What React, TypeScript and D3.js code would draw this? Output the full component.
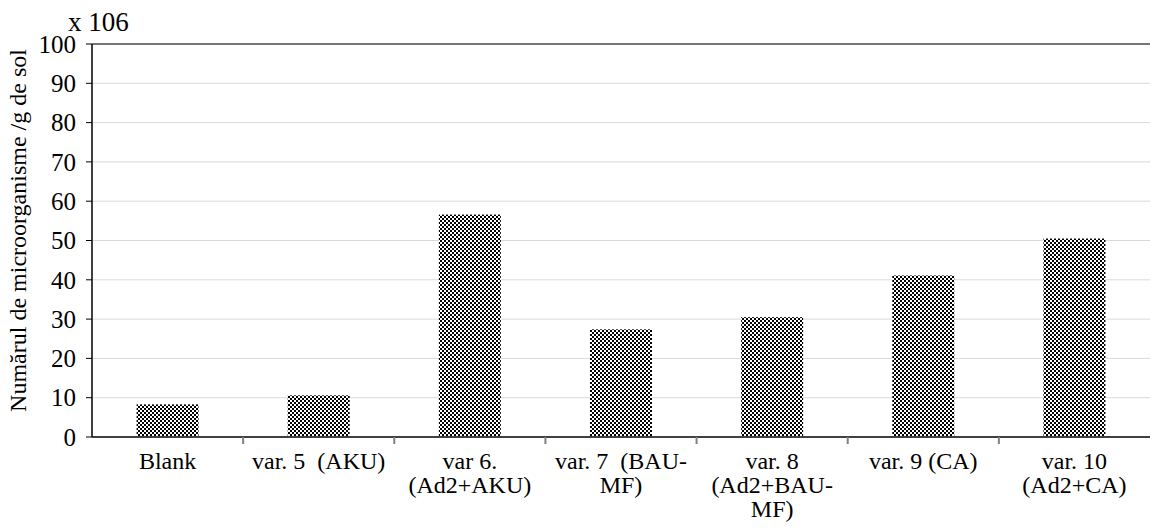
import React from "react";
import * as d3 from "d3";

const categories: string[][] = [
  ["Blank"],
  ["var. 5  (AKU)"],
  ["var 6.", "(Ad2+AKU)"],
  ["var. 7  (BAU-", "MF)"],
  ["var. 8", "(Ad2+BAU-", "MF)"],
  ["var. 9 (CA)"],
  ["var. 10", "(Ad2+CA)"],
];
const values: number[] = [8.3, 10.6, 56.6, 27.4, 30.5, 41.1, 50.5];
const yTicks: number[] = [0, 10, 20, 30, 40, 50, 60, 70, 80, 90, 100];
const yTitle = "Numărul de microorganisme /g de sol";
const unitLabel = "x 106";

const W = 1154;
const H = 531;
const left = 92;
const right = 1150;
const top = 44;
const bottom = 437;
const font = "'Liberation Serif', 'Times New Roman', Times, serif";
const fs = 24;
const fsTick = 25;

export default function App() {
  const ids = categories.map((_, i) => String(i));
  const x = d3.scaleBand<string>().domain(ids).range([left, right]).paddingInner(0.59).paddingOuter(0.295);
  const xb = d3.scaleBand<string>().domain(ids).range([left, right]).padding(0);
  const y = d3.scaleLinear().domain([0, 100]).range([bottom, top]);

  return (
    <svg
      width={W}
      height={H}
      style={{ position: "absolute", left: 0, top: 0, background: "#fff", fontFamily: font }}
    >
      <defs>
        <pattern id="checker" width={4} height={4} patternUnits="userSpaceOnUse">
          <rect width={4} height={4} fill="#fff" />
          <rect x={0} y={0} width={2} height={2} fill="#000" />
          <rect x={2} y={2} width={2} height={2} fill="#000" />
        </pattern>
      </defs>
      <rect x={0} y={0} width={W} height={H} fill="#fff" />
      {yTicks.slice(1).map((t) => (
        <line key={"g" + t} x1={left} x2={right} y1={y(t)} y2={y(t)} stroke="#d9d9d9" strokeWidth={1} />
      ))}
      {values.map((v, i) => (
        <rect
          key={"b" + i}
          x={x(String(i))}
          y={y(v)}
          width={x.bandwidth()}
          height={y(0) - y(v)}
          fill="url(#checker)"
        />
      ))}
      <line x1={left} x2={right} y1={top} y2={top} stroke="#000" strokeWidth={1} />
      <line x1={left} x2={right} y1={bottom} y2={bottom} stroke="#404040" strokeWidth={2} />
      {ids.slice(1).map((id) => (
        <line key={"xt" + id} x1={xb(id)!} x2={xb(id)!} y1={bottom} y2={bottom + 7} stroke="#808080" strokeWidth={2} />
      ))}
      <line x1={left} x2={left} y1={top} y2={bottom} stroke="#000" strokeWidth={1.5} />
      {yTicks.map((t) => (
        <g key={"yt" + t}>
          <line x1={left - 6} x2={left} y1={y(t)} y2={y(t)} stroke="#000" strokeWidth={1} />
          <text x={left - 16} y={y(t)} dy="0.35em" textAnchor="end" fontSize={fsTick} fill="#000">
            {t}
          </text>
        </g>
      ))}
      {categories.map((lines, i) => (
        <text
          key={"c" + i}
          x={xb(String(i))! + xb.bandwidth() / 2}
          y={469}
          textAnchor="middle"
          fontSize={fs}
          fill="#000"
          xmlSpace="preserve"
          style={{ whiteSpace: "pre" }}
        >
          {lines.map((l, j) => (
            <tspan key={j} x={xb(String(i))! + xb.bandwidth() / 2} dy={j === 0 ? 0 : 24}>
              {l}
            </tspan>
          ))}
        </text>
      ))}
      <text x={68} y={31} fontSize={27} fill="#000">
        {unitLabel}
      </text>
      <text
        transform={`translate(26, ${(top + bottom) / 2 - 10}) rotate(-90)`}
        textAnchor="middle"
        fontSize={fs}
        fill="#000"
      >
        {yTitle}
      </text>
    </svg>
  );
}
